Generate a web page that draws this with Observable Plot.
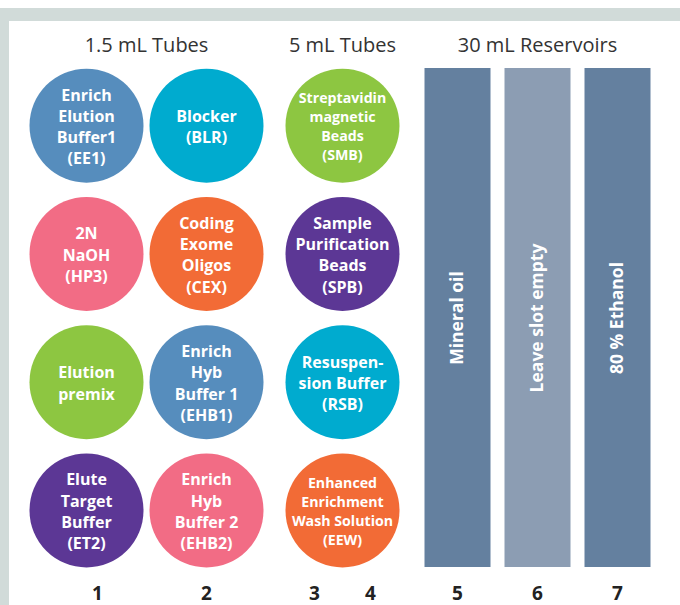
<!DOCTYPE html>
<html>
<head>
<meta charset="utf-8">
<script src="https://cdn.jsdelivr.net/npm/d3@7"></script>
<script src="https://cdn.jsdelivr.net/npm/@observablehq/plot@0.6"></script>
<style>
  html, body { margin: 0; padding: 0; background: #fff; }
  #wrap { position: relative; width: 680px; height: 605px; overflow: hidden; }
  #frame { position: absolute; left: 0; top: 8px; width: 680px; height: 597px;
           box-sizing: border-box; border-top: 13px solid #d1dbd9; border-left: 9px solid #d1dbd9; }
  #chart { position: absolute; left: 0; top: 0; }
</style>
</head>
<body>
<div id="wrap"><div id="frame"></div><div id="chart"></div></div>
<script>
// ---- data ----
const tubeCodes  = ["EE1", "BLR", "HP3", "CEX", "premix", "EHB1", "ET2", "EHB2", "SMB", "SPB", "RSB", "EEW"];
const tubeLabels = [
  "Enrich\nElution\nBuffer1\n(EE1)",
  "Blocker\n(BLR)",
  "2N\nNaOH\n(HP3)",
  "Coding\nExome\nOligos\n(CEX)",
  "Elution\npremix",
  "Enrich\nHyb\nBuffer 1\n(EHB1)",
  "Elute\nTarget\nBuffer\n(ET2)",
  "Enrich\nHyb\nBuffer 2\n(EHB2)",
  "Streptavidin\nmagnetic\nBeads\n(SMB)",
  "Sample\nPurification\nBeads\n(SPB)",
  "Resuspen-\nsion Buffer\n(RSB)",
  "Enhanced\nEnrichment\nWash Solution\n(EEW)"
];
const tubeSlot = [1, 2, 1, 2, 1, 2, 1, 2, 3.5, 3.5, 3.5, 3.5];
const tubeRow  = [1, 1, 2, 2, 3, 3, 4, 4, 1, 2, 3, 4];
const smallLabelCodes = ["SMB", "EEW"];

const reservoirCodes  = ["oil", "empty", "ethanol"];
const reservoirLabels = ["Mineral oil", "Leave slot empty", "80 % Ethanol"];
const reservoirSlot   = [5, 6, 7];

const groupLabels = ["1.5 mL Tubes", "5 mL Tubes", "30 mL Reservoirs"];
const groupSlot   = [1.5, 3.5, 6];

const slotNumbers = [1, 2, 3, 4, 5, 6, 7];

// colour options (scale ranges)
const tubeColors = ["#568dbd", "#00abcf", "#f26c85", "#f26b36", "#8dc641", "#568dbd",
                    "#5c3795", "#f26c85", "#8dc641", "#5c3795", "#00abcf", "#f26b36"];
const reservoirColors = ["#64809f", "#8c9db3", "#64809f"];

// ---- tables ----
const tubes = tubeCodes.map((code, i) => ({code, label: tubeLabels[i], slot: tubeSlot[i], row: tubeRow[i]}));
const reservoirs = reservoirCodes.map((code, i) => ({code, label: reservoirLabels[i], slot: reservoirSlot[i], y1: 0.5, y2: 4.5, mid: 2.5}));
const groups = groupLabels.map((label, i) => ({label, slot: groupSlot[i]}));

const fontBody = "'Open Sans', 'Noto Sans', sans-serif";
const numberStyle = {frameAnchor: "bottom", lineAnchor: "middle", dy: 19, fontSize: 19, fontWeight: "bold", fill: "#222222"};

const plot = Plot.plot({
  width: 680,
  height: 605,
  marginTop: 61,
  marginBottom: 31,
  marginLeft: 0,
  marginRight: 0,
  style: {background: "transparent", fontFamily: fontBody},
  x: {type: "linear", domain: slotNumbers, range: [86, 206, 314, 370, 457, 537, 617], axis: null},
  y: {domain: [0.5, 4.5], reverse: true, axis: null},
  color: {domain: [...tubeCodes, ...reservoirCodes], range: [...tubeColors, ...reservoirColors]},
  marks: [
    // reservoirs
    Plot.ruleX(reservoirs, {x: "slot", y1: "y1", y2: "y2", stroke: "code", strokeWidth: 66,
                            insetTop: 7, insetBottom: 7, strokeLinecap: "butt"}),
    Plot.text(reservoirs, {x: "slot", y: "mid", text: "label", rotate: -90, fill: "white",
                           fontSize: 17.5, fontWeight: "bold", dy: 0}),
    // tubes
    Plot.dot(tubes, {x: "slot", y: "row", r: 57, fill: "code", stroke: null}),
    Plot.text(tubes.filter(d => !smallLabelCodes.includes(d.code)),
              {x: "slot", y: "row", text: "label", fill: "white", fontSize: 16, fontWeight: "bold", lineHeight: 1.33}),
    Plot.text(tubes.filter(d => smallLabelCodes.includes(d.code)),
              {x: "slot", y: "row", text: "label", fill: "white", fontSize: 14.2, fontWeight: "bold", lineHeight: 1.33}),
    // group headers
    Plot.text(groups, {x: "slot", text: "label", frameAnchor: "top", lineAnchor: "middle", dy: -16,
                       fontSize: 20, fontWeight: 400, fill: "#333333"}),
    // slot numbers (slot 1 label sits a little right of its tube column)
    Plot.text(slotNumbers.filter(d => d === 1), {x: d => d, text: d => String(d), ...numberStyle, dx: 11}),
    Plot.text(slotNumbers.filter(d => d !== 1), {x: d => d, text: d => String(d), ...numberStyle})
  ]
});
document.getElementById("chart").appendChild(plot);
</script>
</body>
</html>
